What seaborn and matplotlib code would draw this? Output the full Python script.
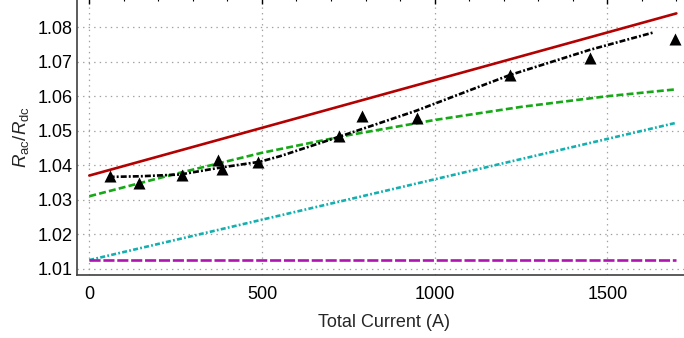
import matplotlib
matplotlib.use("Agg")
import matplotlib.pyplot as plt
from matplotlib.ticker import MultipleLocator
import numpy as np
import pandas as pd
import seaborn as sns

# ---- data ----
red_x = [0, 1700]
red_y = [1.0370, 1.0840]

green_x = [0, 250, 500, 750, 1000, 1250, 1500, 1700]
green_y = [1.0310, 1.0375, 1.0436, 1.0487, 1.0531, 1.0569, 1.0600, 1.0620]

cyan_x = [0, 1700]
cyan_y = [1.0125, 1.0523]

magenta_x = [0, 1700]
magenta_y = [1.0124, 1.0124]

fit_x = [56, 150, 263, 379, 494, 552, 725, 947, 1130, 1217, 1448, 1631]
fit_y = [1.0366, 1.0368, 1.0373, 1.0393, 1.0410, 1.0426, 1.0483, 1.0558, 1.0628, 1.0661, 1.0734, 1.0784]

meas_x = [59, 143, 268, 372, 383, 489, 723, 790, 950, 1217, 1450, 1696]
meas_y = [1.0370, 1.0348, 1.0373, 1.0414, 1.0389, 1.0410, 1.0485, 1.0544, 1.0536, 1.0662, 1.0712, 1.0767]

x_major_ticks = [0, 500, 1000, 1500]
y_major_ticks = [1.01, 1.02, 1.03, 1.04, 1.05, 1.06, 1.07, 1.08]

sns.set_theme(style="white")
plt.rcParams['font.family'] = ['Liberation Sans', 'DejaVu Sans']
plt.rcParams['mathtext.fontset'] = 'custom'
plt.rcParams['mathtext.rm'] = 'Liberation Sans'
plt.rcParams['mathtext.it'] = 'Liberation Sans:italic'
plt.rcParams['lines.scale_dashes'] = False

W, H = 684, 338
fig = plt.figure(figsize=(W / 100, H / 100), dpi=100)
left_px, right_px, bottom_px, top_px = 77, 690, 275, -2
ax = fig.add_axes([left_px / W, (H - bottom_px) / H, (right_px - left_px) / W, (bottom_px - top_px) / H])

xs = 0.34533  # px per unit
x0px = 89.3
ax.set_xlim((left_px - x0px) / xs, (right_px - x0px) / xs)
ys = 3450.0
y108 = 27.2
ax.set_ylim(1.08 - (bottom_px - y108) / ys, 1.08 + (y108 - top_px) / ys)

LW = 1.9
sns.lineplot(x=red_x, y=red_y, color="#b30000", linewidth=LW, ax=ax)
sns.lineplot(x=green_x, y=green_y, color="#16a816", linewidth=LW, linestyle=(0, (5, 2.3)), ax=ax)
sns.lineplot(x=cyan_x, y=cyan_y, color="#14b0b0", linewidth=LW, linestyle=(0, (3.6, 1.6, 1.3, 1.6)), ax=ax)
sns.lineplot(x=magenta_x, y=magenta_y, color="#b014b0", linewidth=LW, linestyle=(0, (8, 2)), ax=ax)
sns.lineplot(x=fit_x, y=fit_y, color="black", linewidth=LW, linestyle=(0, (4.3, 1.5, 1.4, 1.5)), ax=ax)
sns.scatterplot(x=meas_x, y=meas_y, marker="^", s=75, color="black", edgecolor="black", linewidth=0, ax=ax, zorder=5)

ax.set_xticks(x_major_ticks)
ax.set_yticks(y_major_ticks)
ax.set_yticklabels([f"{v:.2f}" for v in y_major_ticks])
ax.xaxis.set_minor_locator(MultipleLocator(100))
ax.yaxis.set_minor_locator(MultipleLocator(0.002))
ax.tick_params(which="both", direction="in", top=True, right=False, colors="black", labelsize=13)
ax.tick_params(which="major", length=4, width=1.0)
ax.tick_params(which="minor", length=2.2, width=0.8)
ax.tick_params(axis="x", pad=8)
ax.tick_params(axis="y", pad=3)

ax.grid(True, which="major", color="#a0a0a0", linestyle=(0, (1, 3)), linewidth=0.9)
for s in ax.spines.values():
    s.set_color("#404040")
    s.set_linewidth(1.2)
ax.spines["right"].set_visible(False)

ax.set_xlabel("Total Current (A)", fontsize=13, labelpad=8)
ax.set_ylabel(r"$R_{\rm ac}/R_{\rm dc}$", fontsize=13.5, labelpad=5)

fig.savefig("out.png", dpi=100)
